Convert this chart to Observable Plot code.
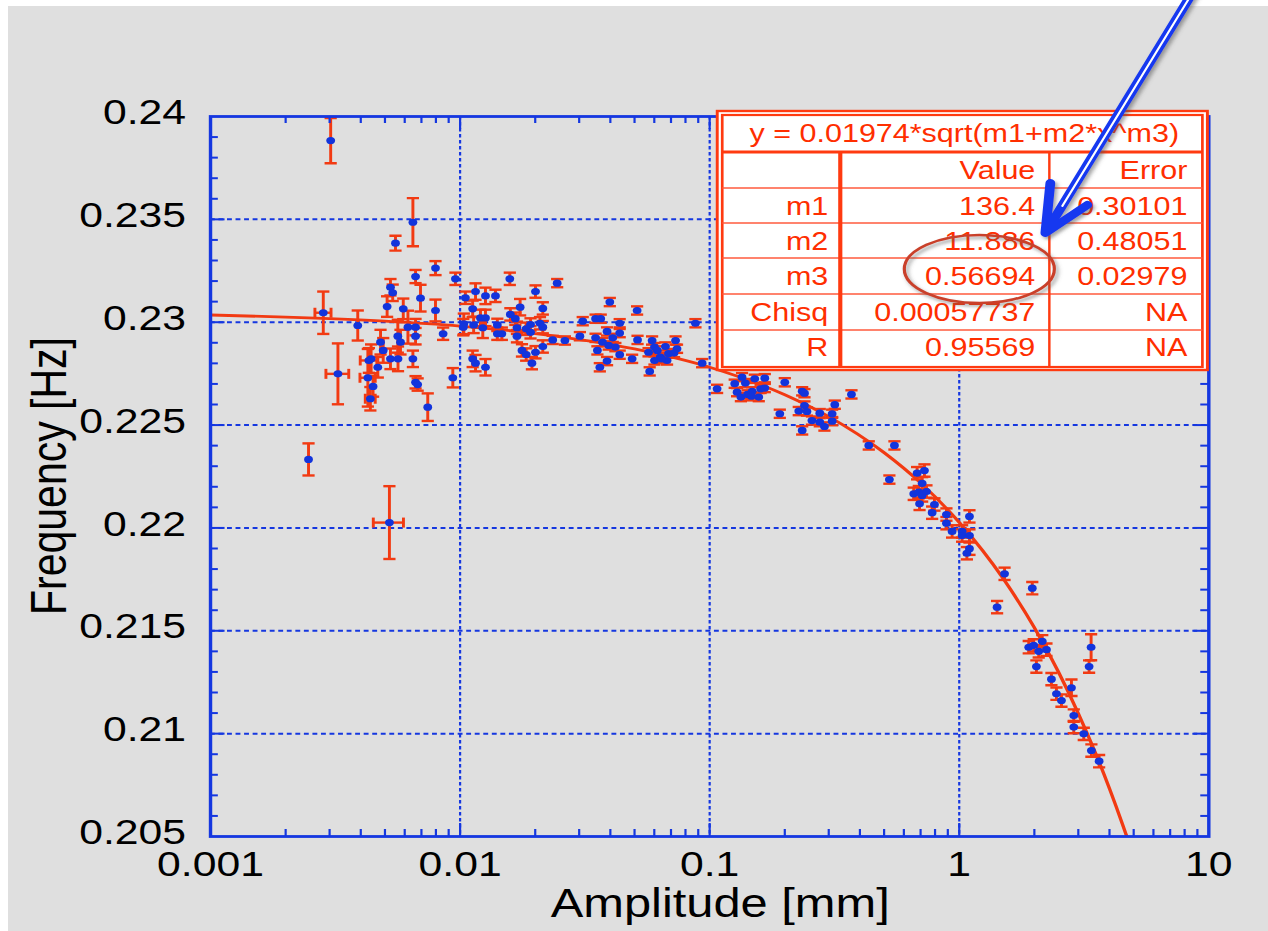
<!DOCTYPE html>
<html><head><meta charset="utf-8">
<script src="https://cdn.jsdelivr.net/npm/d3@7"></script>
<script src="https://cdn.jsdelivr.net/npm/@observablehq/plot@0.6"></script>
<style>
html,body{margin:0;padding:0;background:#fff;overflow:hidden;}
#chart{width:1268px;height:931px;}
</style></head><body><div id="chart"></div>
<script>
// ---------- data ----------
const amp = [
0.00303,0.00647,0.00551,0.00663,0.00797,0.00958,0.00526,0.00537,0.00510,0.00592,
0.00694,0.00797,0.00283,0.00389,0.00618,0.00663,0.00663,0.00563,0.00577,0.00480,
0.00492,0.00431,0.00440,0.00468,0.00526,0.00564,0.00647,0.00427,0.00448,0.00437,
0.00324,0.00663,0.00676,0.00742,0.00935,0.01035,0.0103,0.0105,0.01153,0.01123,
0.01133,0.01207,0.01264,0.01233,0.01264,0.01386,0.0141,0.0141,0.0147,0.01123,
0.01153,0.01264,0.01582,0.0159,0.01665,0.0169,0.0169,0.0174,0.00855,0.00247,
0.00521,0.02005,0.02145,0.02449,0.01915,0.0184,0.01915,0.0209,0.02145,0.0177,
0.0184,0.02005,0.0194,0.02145,0.0235,0.0263,0.031,0.0302,0.0349,0.0366,
0.0398,0.0512,0.0436,0.0349,0.0388,0.0409,0.0436,0.0372,0.0355,0.0394,
0.0419,0.0436,0.0388,0.0363,0.0489,0.0514,0.0575,0.0588,0.0569,0.0601,
0.0617,0.0634,0.0601,0.0665,0.0684,0.0675,0.0730,0.0740,0.0720,0.0642,
0.0877,0.0933,0.1071,0.126,0.1348,0.139,0.1288,0.1334,0.1419,0.148,
0.1516,0.1573,0.1600,0.1663,0.1663,0.147,0.2,0.2348,0.2398,0.191,
0.2275,0.2398,0.2454,0.2569,0.2762,0.2762,0.2883,0.3096,0.3096,0.3172,
0.2348,0.370,0.434,0.550,0.525,0.678,0.7255,0.7102,0.6572,0.6886,
0.7102,0.739,0.6934,0.7955,0.7788,0.8886,0.8886,0.9363,1.027,1.099,
1.027,1.099,1.099,1.073,1.519,1.962,1.418,2.151,1.899,1.988,
2.082,2.236,2.038,2.341,2.452,2.568,2.816,2.877,2.877,3.155,
3.385,3.635,3.376,3.314
];
const freq = [
0.23883,0.23486,0.23384,0.23222,0.23263,0.23211,0.23170,0.23143,0.23076,0.23065,
0.23117,0.23057,0.23046,0.22984,0.22976,0.22976,0.22932,0.22932,0.22903,0.22903,
0.22863,0.22814,0.22822,0.22781,0.22822,0.22822,0.22822,0.22730,0.22688,0.22628,
0.22749,0.22708,0.22697,0.22587,0.22730,0.22992,0.22976,0.23119,0.23149,0.23065,
0.22987,0.23021,0.23021,0.22973,0.23128,0.23128,0.22987,0.22944,0.22944,0.22822,
0.22801,0.22781,0.23211,0.23038,0.23017,0.22973,0.22932,0.23073,0.22944,0.22333,
0.22026,0.23149,0.23067,0.23190,0.22989,0.22968,0.22951,0.22995,0.22976,0.22863,
0.22843,0.22854,0.22801,0.22882,0.22914,0.22911,0.23005,0.22932,0.23017,0.23017,
0.23098,0.23057,0.22995,0.22924,0.22955,0.22924,0.22947,0.22903,0.22863,0.22887,
0.22879,0.22842,0.22811,0.22781,0.22822,0.22914,0.22761,0.22911,0.22854,0.22879,
0.22863,0.22830,0.22814,0.22882,0.22847,0.22814,0.22911,0.22871,0.22850,0.22822,
0.22995,0.22801,0.22676,0.22701,0.22733,0.22704,0.22660,0.22636,0.22649,0.22664,
0.22725,0.22636,0.22676,0.22680,0.22728,0.22640,0.22708,0.22664,0.22655,0.22555,
0.22568,0.22595,0.22566,0.22522,0.22558,0.22514,0.22493,0.22519,0.22555,0.22599,
0.22474,0.22649,0.22401,0.22401,0.22235,0.22266,0.22279,0.22217,0.22166,0.22174,
0.22158,0.22177,0.22117,0.22114,0.22074,0.22065,0.22023,0.21983,0.21983,0.22056,
0.21963,0.21963,0.21899,0.21877,0.21777,0.21707,0.21615,0.21449,0.21420,0.21429,
0.21400,0.21408,0.21326,0.21265,0.21194,0.21161,0.21223,0.21088,0.21032,0.20999,
0.20918,0.20866,0.21420,0.21326
];
const freqErr = [
0.0011,0.00117,0.00036,0.00032,0.00034,0.0003,0.0004,0.0004,0.0005,0.0005,
0.00065,0.00053,0.00103,0.00073,0.0008,0.0004,0.0004,0.0008,0.0006,0.0006,
0.0006,0.0006,0.0007,0.0005,0.0005,0.0006,0.0004,0.0014,0.0005,0.00057,
0.00148,0.0003,0.0003,0.00067,0.00047,0.0005,0.0004,0.0003,0.0004,0.0004,
0.0004,0.0004,0.0004,0.0005,0.0004,0.0003,0.0003,0.0003,0.0003,0.0004,
0.0004,0.0004,0.0003,0.0003,0.0003,0.0003,0.0003,0.0004,0.0003,0.00078,
0.00177,0.0003,0.0003,0.0002,0.0003,0.0003,0.0003,0.0003,0.0003,0.0003,
0.0003,0.0003,0.0003,0.0003,0.0002,0.0002,0.0002,0.0002,0.0002,0.0002,
0.0002,0.0002,0.0002,0.0002,0.0002,0.0002,0.0002,0.0002,0.0002,0.0002,
0.0002,0.0002,0.0002,0.0002,0.0002,0.0002,0.0002,0.0002,0.0002,0.0002,
0.0002,0.0002,0.0002,0.0002,0.0002,0.0002,0.0002,0.0002,0.0002,0.0002,
0.0002,0.0002,0.0002,0.0002,0.0002,0.0002,0.0002,0.0002,0.0002,0.0002,
0.0002,0.0002,0.0002,0.0002,0.0002,0.0002,0.0002,0.0002,0.0002,0.0002,
0.0002,0.0002,0.0002,0.0002,0.0002,0.0002,0.0002,0.0002,0.0002,0.0002,
0.0002,0.0002,0.0002,0.0002,0.0002,0.0003,0.0003,0.0003,0.0003,0.0003,
0.0003,0.0003,0.0003,0.0003,0.0003,0.0003,0.0003,0.0003,0.0003,0.0003,
0.0003,0.0003,0.0003,0.0003,0.0003,0.0003,0.0003,0.0003,0.0003,0.0003,
0.0003,0.0003,0.0003,0.0003,0.0003,0.0003,0.0004,0.0003,0.0003,0.0003,
0.0003,0.0003,0.00063,0.0003
];
// horizontal (amplitude) error bars: point index and half-width in mm
const ampErrIndex = [12, 21, 27, 29, 30, 60];
const ampErrSize  = [0.00021, 0.00033, 0.0003, 0.0002, 0.00034, 0.00072];

// fitted curve
const fitAmp  = [0.001,0.002,0.005,0.01,0.02,0.05,0.1,0.2,0.3,0.5,0.7,1,1.5,2,2.5,3,3.5,4,4.5,4.7];
const fitFreq = [0.23035,0.23025,0.23005,0.22981,0.22945,0.22870,0.22781,0.22647,0.22541,0.22366,0.22219,0.22027,0.21754,0.21515,0.21299,0.21098,0.20911,0.20733,0.20563,0.20497];

// axes
const xTicks = [0.001, 0.01, 0.1, 1, 10];
const xTickLabels = ["0.001", "0.01", "0.1", "1", "10"];
const yTicks = [0.205, 0.21, 0.215, 0.22, 0.225, 0.23, 0.235, 0.24];
const yTickLabels = ["0.205", "0.21", "0.215", "0.22", "0.225", "0.23", "0.235", "0.24"];
const xTitle = "Amplitude [mm]";
const yTitle = "Frequency [Hz]";

// fit results table
const fitFormula = "y = 0.01974*sqrt(m1+m2*x^m3)";
const tableHeader = ["", "Value", "Error"];
const paramNames  = ["m1", "m2", "m3", "Chisq", "R"];
const paramValues = ["136.4", "11.886", "0.56694", "0.00057737", "0.95569"];
const paramErrors = ["0.30101", "0.48051", "0.02979", "NA", "NA"];

// ---------- layout / style ----------
const S = 1.22;                 // the original picture is stretched horizontally
const W = 1039, H = 931;
const mL = 172, mR = 49, mT = 116, mB = 95;
const fw = W - mL - mR, fh = H - mT - mB;
const BLUE = "#1537e0", DOT = "#1234dc", RED = "#f23a12", TRED = "#ff2e00";
const FONT = "'Liberation Sans', Arial, Helvetica, sans-serif";

const points = amp.map((a, i) => ({amp: a, freq: freq[i], err: freqErr[i]}));
const xErrPts = ampErrIndex.map((k, i) => ({...points[k], aerr: ampErrSize[i]}));
const fit = fitAmp.map((a, i) => ({amp: a, freq: fitFreq[i]}));
const xLabel = new Map(xTicks.map((v, i) => [v, xTickLabels[i]]));
const yLabel = new Map(yTicks.map((v, i) => [v, yTickLabels[i]]));

const capH = {draw(ctx) { ctx.moveTo(-5, 0); ctx.lineTo(5, 0); }};
const capV = {draw(ctx) { ctx.moveTo(0, -5); ctx.lineTo(0, 5); }};

const xMinor = [];
for (let e = -3; e < 1; e++) for (let k = 2; k <= 9; k++) xMinor.push(k * Math.pow(10, e));
const xMajorIn = xTicks.slice(1, -1);
const yMinor = d3.range(206, 240).filter(v => v % 5 !== 0).map(v => v / 1000);
const yMajorIn = yTicks.slice(1, -1);

const barStyle = {stroke: RED, strokeWidth: 2.4, clip: true};

const plot = Plot.plot({
  width: W, height: H,
  marginLeft: mL, marginRight: mR, marginTop: mT, marginBottom: mB,
  style: {background: "transparent", fontFamily: FONT, color: "#000"},
  x: {type: "log", domain: [0.001, 10]},
  y: {domain: [0.205, 0.24]},
  marks: [
    Plot.gridX(xMajorIn, {stroke: BLUE, strokeOpacity: 1, strokeWidth: 1.8, strokeDasharray: "3.5,2.5"}),
    Plot.gridY(yMajorIn, {stroke: BLUE, strokeOpacity: 1, strokeWidth: 2, strokeDasharray: "4,3"}),
    Plot.line(fit, {x: "amp", y: "freq", stroke: RED, strokeWidth: 2.8, curve: "monotone-x", clip: true}),
    Plot.ruleX(points, {x: "amp", y1: d => d.freq - d.err, y2: d => d.freq + d.err, ...barStyle}),
    Plot.dot(points, {x: "amp", y: d => d.freq + d.err, symbol: capH, r: 5, fill: "none", ...barStyle}),
    Plot.dot(points, {x: "amp", y: d => d.freq - d.err, symbol: capH, r: 5, fill: "none", ...barStyle}),
    Plot.ruleY(xErrPts, {y: "freq", x1: d => d.amp - d.aerr, x2: d => d.amp + d.aerr, ...barStyle}),
    Plot.dot(xErrPts, {x: d => d.amp - d.aerr, y: "freq", symbol: capV, r: 5, fill: "none", ...barStyle}),
    Plot.dot(xErrPts, {x: d => d.amp + d.aerr, y: "freq", symbol: capV, r: 5, fill: "none", ...barStyle}),
    Plot.dot(points, {x: "amp", y: "freq", r: 3.6, fill: DOT, stroke: "none", clip: true}),
    // inward ticks on all four sides
    Plot.tickX(xMinor, {x: d => d, stroke: BLUE, strokeWidth: 1.8, insetTop: fh - 7}),
    Plot.tickX(xMinor, {x: d => d, stroke: BLUE, strokeWidth: 1.8, insetBottom: fh - 7}),
    Plot.tickX(xMajorIn, {x: d => d, stroke: BLUE, strokeWidth: 1.8, insetTop: fh - 13}),
    Plot.tickX(xMajorIn, {x: d => d, stroke: BLUE, strokeWidth: 1.8, insetBottom: fh - 13}),
    Plot.tickY(yMinor, {y: d => d, stroke: BLUE, strokeWidth: 2, insetRight: fw - 6.5}),
    Plot.tickY(yMinor, {y: d => d, stroke: BLUE, strokeWidth: 2, insetLeft: fw - 6.5}),
    Plot.tickY(yMajorIn, {y: d => d, stroke: BLUE, strokeWidth: 2, insetRight: fw - 12}),
    Plot.tickY(yMajorIn, {y: d => d, stroke: BLUE, strokeWidth: 2, insetLeft: fw - 12}),
    Plot.frame({stroke: BLUE, strokeWidth: 2.8}),
    Plot.axisX(xTicks, {anchor: "bottom", tickSize: 0, tickPadding: 15, tickFormat: d => xLabel.get(d), fontSize: 35, label: null, fill: "#000"}),
    Plot.axisY(yTicks, {anchor: "left", tickSize: 0, tickPadding: 20, tickFormat: d => yLabel.get(d), fontSize: 35, dy: -3.5, label: null, fill: "#000"})
  ]
});

// stretch the drawing horizontally like the original picture
plot.setAttribute("width", 1268);
plot.setAttribute("height", 931);
plot.setAttribute("preserveAspectRatio", "none");
plot.style.cssText = "width:1268px;height:931px;max-width:none;background:#fff;display:block;font-family:" + FONT;

const svg = d3.select(plot);
const X = v => v / S;  // picture pixels -> drawing units (horizontal)

// grey page background
svg.insert("rect", ":first-child")
  .attr("x", X(8)).attr("y", 6).attr("width", W).attr("height", H).attr("fill", "#dfdfdf");

// shadow filter
const defs = svg.append("defs");
defs.append("filter").attr("id", "shd").attr("x", "-20%").attr("y", "-20%").attr("width", "140%").attr("height", "140%")
  .append("feDropShadow").attr("dx", 2).attr("dy", 2.5).attr("stdDeviation", 1.6)
  .attr("flood-color", "#555").attr("flood-opacity", 0.55);

// axis titles
svg.append("text").attr("x", X(720)).attr("y", 917).attr("text-anchor", "middle")
  .attr("font-size", 40).attr("font-family", FONT).attr("fill", "#000").text(xTitle);
svg.append("text").attr("transform", `translate(${X(66)},476) rotate(-90)`).attr("text-anchor", "middle")
  .attr("font-size", 41).attr("font-family", FONT).attr("fill", "#000").text(yTitle);

// fit result table
const tb = svg.append("g").attr("font-family", FONT).attr("font-size", 25).attr("fill", TRED);
const tL = 717, tR = 1207, tT = 111, tB = 370;
const iL = 722, iR = 1202, iT = 115, iB = 367;
tb.append("rect").attr("x", X(tL)).attr("y", tT).attr("width", X(tR - tL)).attr("height", tB - tT)
  .attr("fill", "#fff").attr("stroke", "#ff3a10").attr("stroke-width", 2.4);
tb.append("rect").attr("x", X(iL)).attr("y", iT).attr("width", X(iR - iL)).attr("height", iB - iT)
  .attr("fill", "#fff").attr("stroke", "#ff3a10").attr("stroke-width", 2.2);
const rowLines = [188, 223, 258, 294, 330];
tb.append("line").attr("x1", X(iL)).attr("x2", X(iR)).attr("y1", 152).attr("y2", 152)
  .attr("stroke", "#ff3a10").attr("stroke-width", 3);
rowLines.forEach(y => tb.append("line").attr("x1", X(iL)).attr("x2", X(iR)).attr("y1", y).attr("y2", y)
  .attr("stroke", "#ff5a3c").attr("stroke-width", 1.4));
tb.append("line").attr("x1", X(840)).attr("x2", X(840)).attr("y1", 152).attr("y2", iB)
  .attr("stroke", "#ff3a10").attr("stroke-width", 3.4);
tb.append("line").attr("x1", X(1049)).attr("x2", X(1049)).attr("y1", 152).attr("y2", iB)
  .attr("stroke", "#ff3a10").attr("stroke-width", 2);
tb.append("text").attr("x", X(964)).attr("y", 142).attr("text-anchor", "middle").text(fitFormula);
const colRight = [828, 1035, 1187];
const headY = 179, rowY = [215, 250, 285, 321, 356.5];
tableHeader.forEach((h, j) => tb.append("text").attr("x", X(colRight[j])).attr("y", headY)
  .attr("text-anchor", "end").text(h));
paramNames.forEach((n, i) => {
  [n, paramValues[i], paramErrors[i]].forEach((t, j) =>
    tb.append("text").attr("x", X(colRight[j])).attr("y", rowY[i]).attr("text-anchor", "end").text(t));
});

// red ellipse around m3 value
svg.append("ellipse").attr("cx", X(979)).attr("cy", 269).attr("rx", X(75)).attr("ry", 34)
  .attr("fill", "none").attr("stroke", "#c9402a").attr("stroke-width", 2.6).attr("filter", "url(#shd)");

// blue arrow
const ar = svg.append("g").attr("filter", "url(#shd)").attr("stroke-linecap", "round");
ar.append("line").attr("x1", X(1195)).attr("y1", -12).attr("x2", X(1047)).attr("y2", 230)
  .attr("stroke", "#1438f0").attr("stroke-width", 8);
ar.append("line").attr("x1", X(1195)).attr("y1", -12).attr("x2", X(1062)).attr("y2", 206)
  .attr("stroke", "#fff").attr("stroke-width", 1.8);
ar.append("path").attr("d", `M${X(1050)},183 L${X(1045)},233 L${X(1087)},205`)
  .attr("fill", "none").attr("stroke", "#1438f0").attr("stroke-width", 8).attr("stroke-linejoin", "round");

document.getElementById("chart").appendChild(plot);
</script>
</body></html>
